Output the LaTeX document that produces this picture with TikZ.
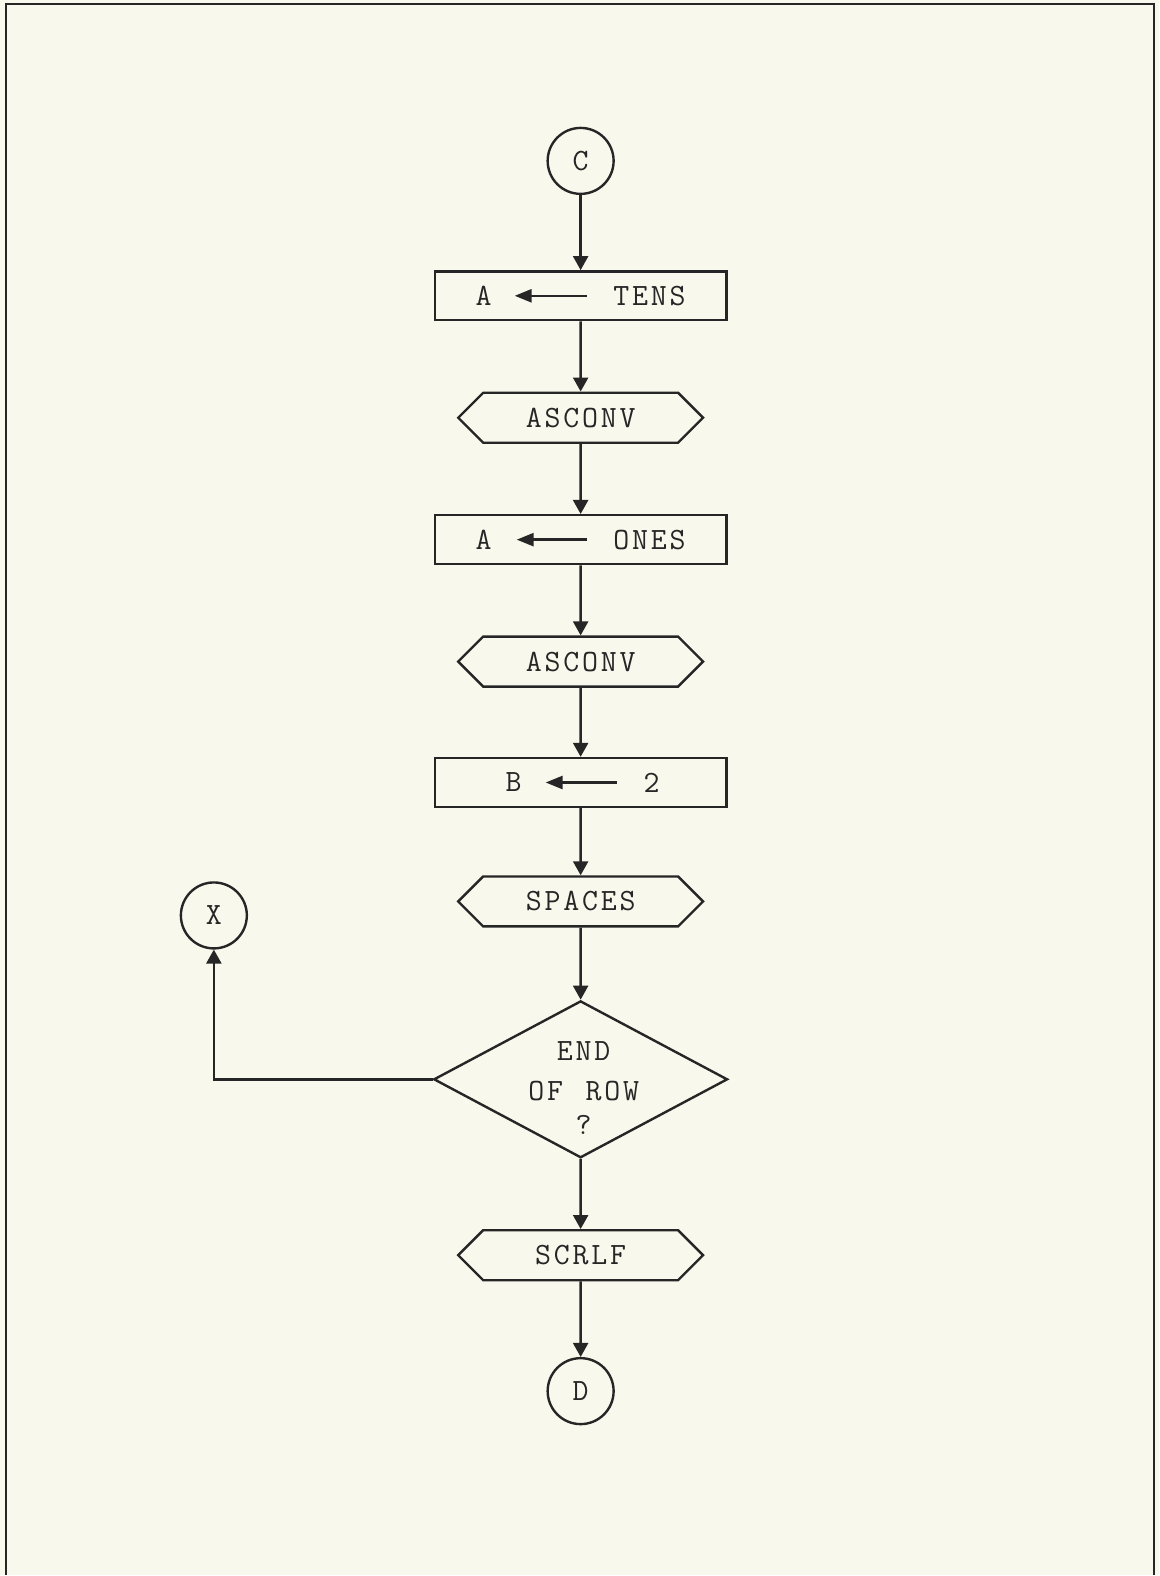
\documentclass[tikz,border=0pt]{standalone}
\usepackage{fontspec}
\usetikzlibrary{shapes.geometric,shapes.symbols,arrows.meta,calc}
\definecolor{paper}{RGB}{248,248,237}
\definecolor{ink}{RGB}{38,38,38}
\newdimen\tracking \tracking=1.4pt
\newcommand{\typewriter}{\ttfamily\fontsize{15.5}{18}\selectfont}
\newcommand{\spc}[1]{\spci#1\relax}
\def\spci#1{\ifx\relax#1\kern-\tracking\else#1\kern\tracking\expandafter\spci\fi}
\begin{document}
\begin{tikzpicture}[x=0.5pt,y=-0.5pt,
  every node/.style={font=\typewriter, text=ink},
  flow/.style={draw=ink, line width=1.2pt, -{Triangle[length=7pt,width=7.5pt]}},
  conn/.style={circle, draw=ink, line width=1.2pt, minimum size=33pt, inner sep=0pt},
  procbox/.style={rectangle, draw=ink, line width=1.2pt, minimum width=146pt, minimum height=24.5pt, inner sep=0pt},
  hexbox/.style={signal, signal to=west and east, signal pointer angle=90, draw=ink, line width=1.2pt, minimum width=122.5pt, minimum height=25pt, inner sep=0pt},
  decision/.style={diamond, aspect=1.87, draw=ink, line width=1.2pt, minimum width=147pt, minimum height=78.5pt, inner sep=0pt},
  assign/.style={draw=ink, line width=1.3pt, -{Triangle[length=8.5pt,width=6.5pt]}}
]
\fill[paper] (0,0) rectangle (1160,1576);
\draw[ink, line width=1pt] (6,1576) -- (6,4) -- (1155,4) -- (1155,1576);

% main column
\node[conn] (c) at (581,161) {C};
\node[procbox] (tens) at (581,296) {};
\node[hexbox] (asc1) at (581,418) {\spc{ASCONV}};
\node[procbox] (ones) at (581,540) {};
\node[hexbox] (asc2) at (581,662) {\spc{ASCONV}};
\node[procbox] (btwo) at (581,783) {};
\node[hexbox] (spaces) at (581,902) {\spc{SPACES}};
\node[decision] (dia) at (581,1080) {};
\node[align=center, inner sep=0pt] (diaT) at (584,1089) {\spc{END}\\[2pt]\spc{OF}\kern11.3pt\spc{ROW}\\[-1pt]?};
\node[conn] (x) at (214,916) {X};
\node[hexbox] (scrlf) at (581,1256) {\spc{SCRLF}};
\node[conn] (d) at (581,1392) {D};

% box contents
\node (tensA) at ($(tens)+(-97,0)$) {A};
\node (tensT) at ($(tens)+(69,0)$) {\spc{TENS}};
\coordinate (tensR) at ($(tens)+(6,0)$);
\coordinate (tensL) at ($(tens)+(-66,0)$);
\draw[assign] (tensR) -- (tensL);

\node (onesA) at ($(ones)+(-97,0)$) {A};
\node (onesT) at ($(ones)+(69,0)$) {\spc{ONES}};
\coordinate (onesR) at ($(ones)+(6,0)$);
\coordinate (onesL) at ($(ones)+(-64,0)$);
\draw[assign] (onesR) -- (onesL);

\node (btwoB) at ($(btwo)+(-67,0)$) {B};
\node (btwoT) at ($(btwo)+(71,0)$) {2};
\coordinate (btwoR) at ($(btwo)+(36,0)$);
\coordinate (btwoL) at ($(btwo)+(-35,0)$);
\draw[assign] (btwoR) -- (btwoL);

% connectors
\draw[flow] (c) -- (tens);
\draw[flow] (tens) -- (asc1);
\draw[flow] (asc1) -- (ones);
\draw[flow] (ones) -- (asc2);
\draw[flow] (asc2) -- (btwo);
\draw[flow] (btwo) -- (spaces);
\draw[flow] (spaces) -- (dia);
\draw[flow] (dia.west) -| (x.south);
\draw[flow] (dia) -- (scrlf);
\draw[flow] (scrlf) -- (d);
\end{tikzpicture}
\end{document}
